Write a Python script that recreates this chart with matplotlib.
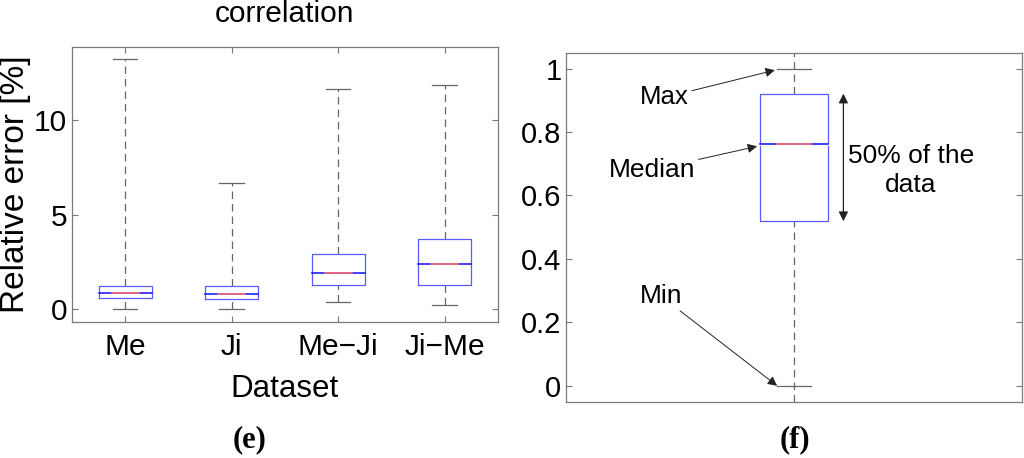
import matplotlib
matplotlib.use("Agg")
import matplotlib.pyplot as plt

plt.rcParams["font.family"] = ["Liberation Sans", "DejaVu Sans"]

# panel (e): relative error per dataset
datasets = ["Me", "Ji", "Me\u2212Ji", "Ji\u2212Me"]
err_min = [0.0, 0.0, 0.37, 0.23]
err_q1 = [0.58, 0.54, 1.29, 1.29]
err_med = [0.85, 0.81, 1.90, 2.40]
err_q3 = [1.25, 1.25, 2.91, 3.70]
err_max = [13.24, 6.68, 11.69, 11.90]

# panel (f): explanatory box
demo_min, demo_q1, demo_med, demo_q3, demo_max = 0.0, 0.519, 0.761, 0.921, 1.0

BOX_C = "#5a5aff"
MED_C = "#ff7070"
WHISK_C = "#666666"
SPINE_C = "#7a7a7a"


def draw_box(ax, x, lo, q1, med, q3, hi, half, cap, whisk_lo=None, whisk_hi=None, notch=0.0):
    wl = lo if whisk_lo is None else whisk_lo
    wh = hi if whisk_hi is None else whisk_hi
    dash = dict(color=WHISK_C, lw=0.9, linestyle=(0, (6, 4)), zorder=1)
    ax.plot([x, x], [q3, wh], **dash)
    ax.plot([x, x], [wl, q1], **dash)
    ax.plot([x - cap, x + cap], [hi, hi], color=WHISK_C, lw=0.9, zorder=2)
    ax.plot([x - cap, x + cap], [lo, lo], color=WHISK_C, lw=0.9, zorder=2)
    if notch:
        d = notch
        ax.plot([x - half, x - half, x + half, x + half], [med + d, q3, q3, med + d],
                color=BOX_C, lw=0.9, zorder=3)
        ax.plot([x - half, x - half, x + half, x + half], [med - d, q1, q1, med - d],
                color=BOX_C, lw=0.9, zorder=3)
    else:
        ax.plot([x - half, x + half, x + half, x - half, x - half],
                [q1, q1, q3, q3, q1], color=BOX_C, lw=0.9, zorder=3)
    ax.plot([x - half, x + half], [med, med], color="#2020ff", lw=1.2, zorder=4)
    ax.plot([x - half * 0.5, x + half * 0.5], [med, med], color=MED_C, lw=1.2, zorder=5)


def style_axes(ax):
    for s in ax.spines.values():
        s.set_color(SPINE_C)
        s.set_linewidth(0.9)
    ax.tick_params(direction="in", color=SPINE_C, length=4, width=0.8)


fig = plt.figure(figsize=(10.24, 4.58), dpi=100)

# ---- left panel (e)
ax1 = fig.add_axes([0.0703, 0.2969, 0.416, 0.601])
for i in range(len(datasets)):
    draw_box(ax1, i + 1, err_min[i], err_q1[i], err_med[i], err_q3[i], err_max[i],
             half=0.25, cap=0.115)
ax1.set_xlim(0.5, 4.5)
ax1.set_ylim(-0.67, 13.9)
ax1.set_xticks(range(1, len(datasets) + 1))
ax1.set_xticklabels(datasets, fontsize=21.5)
ax1.set_yticks([0, 5, 10])
ax1.tick_params(axis="y", labelsize=21.5)
ax1.tick_params(top=True, right=True)
style_axes(ax1)
ax1.tick_params(axis="x", pad=8)
ax1.set_xlabel("Dataset", fontsize=22.5, labelpad=9)
ax1.set_ylabel("Relative error [%]", fontsize=24, labelpad=2)
fig.text(285 / 1024, 1 - 14 / 458, "correlation", ha="center", va="center", fontsize=21.5)
fig.text(250 / 1024, 1 - 440 / 458, "(e)", ha="center", va="center", fontsize=22,
         fontweight="bold", family=["Liberation Serif", "DejaVu Serif"])

# ---- right panel (f)
ax2 = fig.add_axes([0.5524, 0.1229, 0.4461, 0.762])
draw_box(ax2, 1, demo_min, demo_q1, demo_med, demo_q3, demo_max, half=0.075, cap=0.0375,
         whisk_lo=-0.05, whisk_hi=1.05, notch=0.004)
ax2.set_xlim(0.5, 1.5)
ax2.set_ylim(-0.05, 1.05)
ax2.set_xticks([])
ax2.set_yticks([0, 0.2, 0.4, 0.6, 0.8, 1.0])
ax2.set_yticklabels(["0", "0.2", "0.4", "0.6", "0.8", "1"])
ax2.tick_params(axis="y", labelsize=21, right=True, pad=3)
style_axes(ax2)

arrow = dict(arrowstyle="-|>", color="#222222", lw=0.7, mutation_scale=14, shrinkA=0, shrinkB=0)
ax2.annotate("Max", xy=(0.958, demo_max - 0.005), xytext=(0.77, 0.909),
             ha="right", va="center", fontsize=18.5, arrowprops=arrow)
ax2.annotate("Median", xy=(0.919, demo_med - 0.006), xytext=(0.785, 0.681),
             ha="right", va="center", fontsize=19, arrowprops=arrow)
ax2.annotate("Min", xy=(0.963, demo_min), xytext=(0.71, 0.283),
             ha="center", va="center", fontsize=19,
             arrowprops=dict(arrow, relpos=(0.85, 0.0)))
ax2.annotate("", xy=(1.108, demo_q3), xytext=(1.108, demo_q1),
             arrowprops=dict(arrowstyle="<|-|>", color="#222222", lw=0.9, mutation_scale=14,
                             shrinkA=0, shrinkB=0))
ax2.text(1.256, 0.679, "50% of the\ndata", ha="center", va="center", fontsize=19,
         linespacing=1.25)
fig.text(795 / 1024, 1 - 440 / 458, "(f)", ha="center", va="center", fontsize=22,
         fontweight="bold", family=["Liberation Serif", "DejaVu Serif"])

fig.savefig("out.png", dpi=100)
